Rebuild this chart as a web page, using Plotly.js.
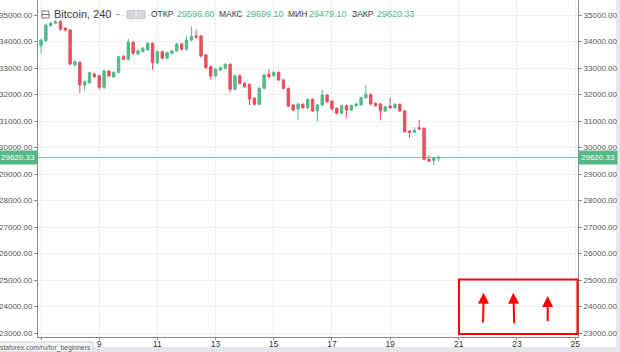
<!DOCTYPE html>
<html><head><meta charset="utf-8">
<script src="https://cdn.plot.ly/plotly-3.0.1.min.js"></script>
<style>html,body{margin:0;padding:0;background:#fff;}#chart{width:620px;height:352px;}</style>
</head><body><div id="chart"></div>
<script>
// Bitcoin, 240-minute bars, 7 .. 20 (4h step)
const startUTC = Date.UTC(2021, 6, 7, 0, 0);
const barHours = 4;
const open = [33841,34030,34596,34687,34747,34498,34434,33113,33215,32358,
32445,32773,32709,32271,32886,32671,32837,33426,33328,33970,
33528,33615,33679,33932,33200,33615,33366,33554,33641,33905,
33705,34056,34207,34207,33490,33049,32698,32924,32988,33139,
32196,32709,32422,32385,31856,31630,32234,32762,32709,32837,
32547,32234,31603,31452,31630,31501,31818,31377,31603,31981,
31754,31479,31290,31577,31415,31566,31603,31879,32007,31668,
31641,31377,31566,31501,31630,31377,30622,30573,30747,30724,
29554,29516,29596.80];
const close = [34056,34623,34687,34747,34472,34434,33151,33237,32358,32483,
32822,32671,32271,32886,32698,32837,33426,33328,33970,33554,
33653,33743,33932,33200,33615,33366,33577,33641,33905,33705,
34056,34181,34158,33453,33011,32698,32951,33011,33139,32196,
32698,32422,32294,31830,31630,32234,32736,32671,32837,32547,
32234,31566,31415,31630,31501,31818,31377,31603,31981,31728,
31452,31290,31577,31415,31577,31641,31879,32007,31641,31577,
31388,31539,31501,31630,31377,30596,30573,30648,30697,29554,
29490,29592,29620.33];
const high = [34100,34680,34740,34810,34800,34560,34470,33290,33250,32530,
32870,32830,32760,32940,32930,32880,33470,33500,34100,34010,
33700,33790,33970,33970,33660,33660,33620,33690,33950,33950,
34200,34570,34450,34250,33540,33090,33000,33060,33190,33180,
32750,32760,32460,32420,31900,32280,32780,32960,32880,32880,
32590,32270,31650,31680,31670,31860,31860,31650,32170,32020,
31790,31520,31620,31620,31620,31680,31920,32360,32040,31710,
31680,31580,31870,31670,31670,31410,30660,30780,31040,30760,
29700,29640,29699.10];
const low = [33550,33990,34560,34650,34400,34380,33100,33050,32060,32150,
32400,32620,32180,32200,32650,32620,32790,33290,33290,33500,
33480,33580,33640,32920,33150,33320,33320,33520,33600,33660,
33660,34010,34110,33400,32960,32560,32650,32880,32950,32080,
32150,32380,32250,31600,31580,31590,32190,32630,32670,32500,
32190,31520,31370,31040,31460,31460,31330,30970,31560,31690,
31410,31250,31250,31120,31380,31530,31560,31840,31600,31540,
31040,31340,31460,31460,31330,30560,30360,30540,30660,29510,
29450,29340,29479.10];
const dayTickLabels = ['','9','11','13','15','17','19','21','23','25'];
const dayTickVals = ['2021-07-07','2021-07-09','2021-07-11','2021-07-13','2021-07-15',
  '2021-07-17','2021-07-19','2021-07-21 08:40','2021-07-23 08:40','2021-07-25 08:40'];
const symbolName = 'Bitcoin, 240';
const ohlcLabels = ['ОТКР','МАКС','МИН','ЗАКР'];

const fmt = t => new Date(t).toISOString().slice(0,16).replace('T',' ');
const times = open.map((_, i) => fmt(startUTC + i * barHours * 3600000));
const n = open.length - 1;
const lastVals = [open[n], high[n], low[n], close[n]];
const lastClose = close[n];

const UP = '#53b987', DOWN = '#eb4d5c';
const L = 38, W = 540, H = 337;
const px = p => (p - L) / W;
const py = p => 1 - p / H;
const FONT = 'Liberation Sans, Arial, sans-serif';

const trace = {
  type: 'candlestick', x: times, open: open, high: high, low: low, close: close,
  increasing: {line: {color: UP, width: 1}, fillcolor: UP},
  decreasing: {line: {color: DOWN, width: 1}, fillcolor: DOWN},
  whiskerwidth: 0, hoverinfo: 'skip', showlegend: false
};
// invisible companion so the right-hand price scale is drawn
const rightScale = {
  type: 'scatter', mode: 'lines', x: times, y: close, yaxis: 'y2',
  line: {width: 0, color: 'rgba(0,0,0,0)'}, opacity: 0, hoverinfo: 'skip', showlegend: false
};

const yRange = [22849, 35566];
const axisCommon = {
  range: yRange, autorange: false, dtick: 1000, tick0: 0, tickformat: '.2f',
  showgrid: true, gridcolor: '#eef0f3', gridwidth: 1,
  zeroline: false, showline: true, linecolor: '#8a8a8a', linewidth: 1,
  ticks: 'outside', ticklen: 3, tickcolor: '#8a8a8a',
  tickfont: {family: FONT, size: 8, color: '#555'}, fixedrange: true
};

const ann = [];
// header
ann.push({xref:'paper', yref:'paper', x:px(53), y:py(14.5), xanchor:'left', yanchor:'middle',
  text: symbolName, showarrow:false, font:{family:FONT, size:11, color:'#404040'}, borderpad:0});
const labelX = [150, 218, 287, 351];
const valueX = [176, 245, 308, 376];
ohlcLabels.forEach((lab, i) => {
  ann.push({xref:'paper', yref:'paper', x:px(labelX[i]), y:py(14.5), xanchor:'left', yanchor:'middle',
    text: lab, showarrow:false, font:{family:FONT, size:8.5, color:'#404040'}, borderpad:0});
  ann.push({xref:'paper', yref:'paper', x:px(valueX[i]), y:py(14.5), xanchor:'left', yanchor:'middle',
    text: lastVals[i].toFixed(2), showarrow:false, font:{family:FONT, size:9, color:UP}, borderpad:0});
});
// last price labels
ann.push({xref:'paper', yref:'y', x:0, y:lastClose, xanchor:'right', yanchor:'middle',
  text: lastClose.toFixed(2), showarrow:false, bgcolor:UP, borderpad:2,
  font:{family:FONT, size:8, color:'#fff'}});
ann.push({xref:'paper', yref:'y', x:1, y:lastClose, xanchor:'left', yanchor:'middle',
  text: lastClose.toFixed(2), showarrow:false, bgcolor:UP, borderpad:2,
  font:{family:FONT, size:8, color:'#fff'}});
// watermark
ann.push({xref:'paper', yref:'paper', x:px(92), y:py(347.5), xanchor:'right', yanchor:'middle',
  text:'staforex.com/ru/for_beginners', showarrow:false, borderpad:0,
  font:{family:FONT, size:6.8, color:'#555'}});
// arrows
const arrows = [[483.7,292.7,483,324],[513.3,292.7,514.3,325],[547.7,296,547.7,322.7]];
arrows.forEach(a => ann.push({xref:'paper', yref:'paper', x:px(a[0]), y:py(a[1]),
  ax:a[2]-a[0], ay:a[3]-a[1], text:'', showarrow:true, arrowhead:2, arrowsize:1.1,
  arrowwidth:2, arrowcolor:'#ff0000', standoff:0, startstandoff:0}));

const shapes = [
  // last price line
  {type:'line', xref:'paper', yref:'y', x0:0, x1:1, y0:lastClose, y1:lastClose,
   line:{color:'rgba(83,185,135,0.8)', width:1}},
  // bottom band
  {type:'rect', xref:'paper', yref:'paper', x0:px(0), x1:px(620), y0:py(352), y1:py(347),
   fillcolor:'#e3e7ec', line:{width:0}, layer:'below'},
  {type:'rect', xref:'paper', yref:'paper', x0:px(-2), x1:px(93), y0:py(352), y1:py(342),
   fillcolor:'#f3f5f7', line:{color:'#c9ced4', width:1}, layer:'below'},
  // right edge band
  {type:'rect', xref:'paper', yref:'paper', x0:px(616), x1:px(621), y0:py(352), y1:py(0),
   fillcolor:'#e6e9ee', line:{width:0}, layer:'below'},
  // header icons
  {type:'rect', xref:'paper', yref:'paper', x0:px(42), x1:px(49), y0:py(18), y1:py(11),
   fillcolor:'rgba(0,0,0,0)', line:{color:'#777', width:1}},
  {type:'line', xref:'paper', yref:'paper', x0:px(42), x1:px(49), y0:py(14.5), y1:py(14.5),
   line:{color:'#777', width:1}},
  {type:'line', xref:'paper', yref:'paper', x0:px(116), x1:px(120), y0:py(14.5), y1:py(14.5),
   line:{color:'#aaa', width:1}},
  {type:'rect', xref:'paper', yref:'paper', x0:px(127), x1:px(135), y0:py(18.5), y1:py(10.5),
   fillcolor:'#d6d8db', line:{color:'#c4c6c9', width:1}},
  {type:'rect', xref:'paper', yref:'paper', x0:px(137), x1:px(145), y0:py(18.5), y1:py(10.5),
   fillcolor:'#d6d8db', line:{color:'#c4c6c9', width:1}},
  // red frame
  {type:'rect', xref:'paper', yref:'paper', x0:px(459), x1:px(577.5), y0:py(334), y1:py(279.5),
   fillcolor:'rgba(0,0,0,0)', line:{color:'#ff0000', width:2}}
];

const layout = {
  width: 620, height: 352,
  margin: {l: L, r: 620 - L - W, t: 0, b: 352 - H},
  paper_bgcolor: '#fff', plot_bgcolor: '#fff',
  showlegend: false, dragmode: false,
  xaxis: {
    type: 'date', range: ['2021-07-06 21:30', '2021-07-25 11:00'], autorange: false,
    tickvals: dayTickVals, ticktext: dayTickLabels,
    showgrid: true, gridcolor: '#eef0f3', zeroline: false,
    showline: true, linecolor: '#8a8a8a', linewidth: 1,
    ticks: 'outside', ticklen: 2, tickcolor: '#8a8a8a', ticklabelstandoff: -3,
    tickfont: {family: FONT, size: 8.5, color: '#333'},
    rangeslider: {visible: false}, fixedrange: true
  },
  yaxis: Object.assign({side: 'left'}, axisCommon),
  yaxis2: Object.assign({side: 'right', overlaying: 'y', showgrid: false}, axisCommon),
  annotations: ann, shapes: shapes
};

Plotly.newPlot('chart', [trace, rightScale], layout, {staticPlot: true, displayModeBar: false});
</script></body></html>
